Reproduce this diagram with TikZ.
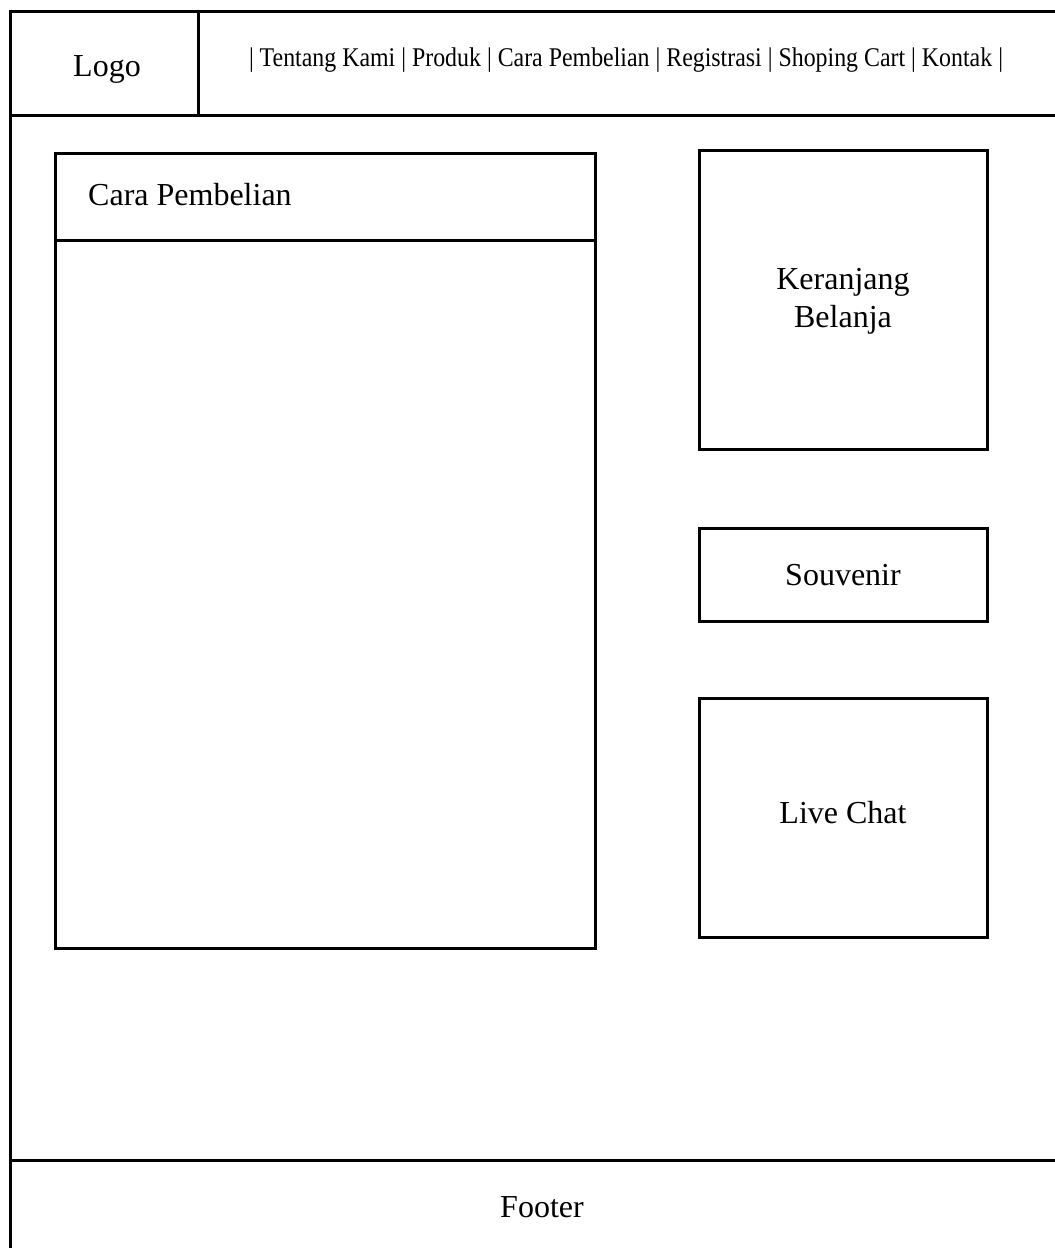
\documentclass[tikz,border=0pt]{standalone}
\usepackage{fontspec}
\setmainfont{Liberation Serif}
\usepackage{graphicx}
\begin{document}
\begin{tikzpicture}[x=1pt,y=-1pt,
  line/.style={line width=3pt},
  panel/.style={draw,line width=3pt,inner sep=0pt,rectangle},
  label/.style={font=\fontsize{32}{38}\selectfont,inner sep=0pt,align=center}]
\useasboundingbox (0,0) rectangle (1055,1248);
% page frame: open on the right and at the bottom
\coordinate (tl) at (10,11);
\coordinate (tr) at (1055,11);
\coordinate (bl) at (10,1248);
\draw[line] (tr) -- (tl) -- (bl);
% header and footer rules
\coordinate (hl) at (10,115);
\coordinate (hr) at (1055,115);
\coordinate (fl) at (10,1160);
\coordinate (fr) at (1055,1160);
\draw[line] (hl) -- (hr);
\draw[line] (fl) -- (fr);
\coordinate (dt) at (198,11);
\coordinate (db) at (198,115);
\draw[line] (dt) -- (db);
% header content
\node[label,anchor=base] (logo) at (107,76) {Logo};
\node[inner sep=0pt,anchor=base] (menu) at (626,66) {\resizebox{754pt}{\height}{\fontsize{27}{32}\selectfont | Tentang Kami | Produk | Cara Pembelian | Registrasi | Shoping Cart | Kontak |}};
% main content panel
\node[panel,minimum width=540pt,minimum height=795pt] (main) at (325,550.5) {};
\coordinate (ml) at (55,240);
\coordinate (mr) at (595,240);
\draw[line] (ml) -- (mr);
\node[label,anchor=base west] (maintitle) at (88,205) {Cara Pembelian};
% side panels
\node[panel,minimum width=288pt,minimum height=299pt] (cart) at (843,299.5) {};
\node[label] (carttext) at (843,301) {Keranjang\\Belanja};
\node[panel,minimum width=288pt,minimum height=93pt] (souv) at (843,574.5) {};
\node[label,anchor=base] (souvtext) at (843,585) {Souvenir};
\node[panel,minimum width=288pt,minimum height=239pt] (chat) at (843,817.5) {};
\node[label,anchor=base] (chattext) at (843,823) {Live Chat};
% footer
\node[label,anchor=base] (footer) at (542,1217) {Footer};
\end{tikzpicture}
\end{document}
